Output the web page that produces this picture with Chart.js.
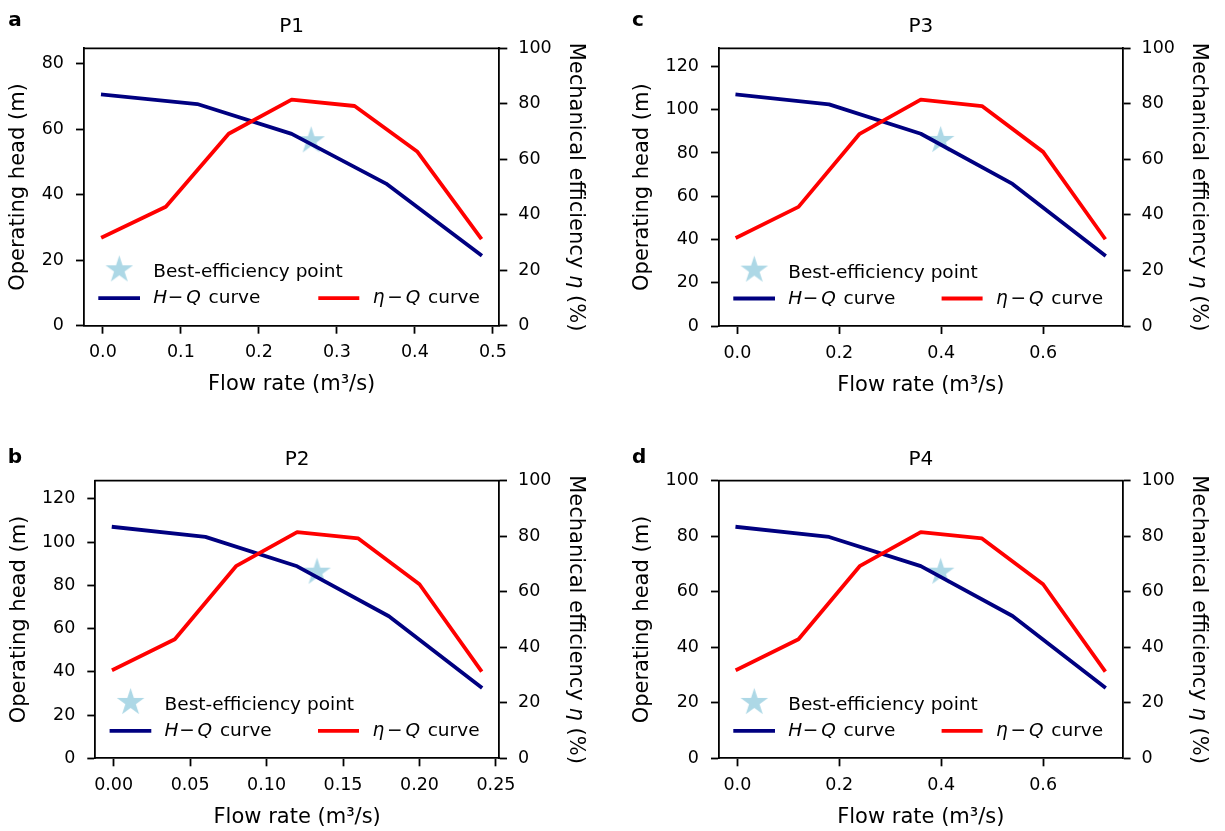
<!DOCTYPE html>
<html>
<head>
<meta charset="utf-8">
<script src="https://cdn.jsdelivr.net/npm/chart.js@4.4.1/dist/chart.umd.min.js"></script>
<style>
  html, body { margin: 0; padding: 0; background: #fff; }
  #fig { position: relative; width: 1225px; height: 831px; }
  #fig canvas { position: absolute; }
</style>
</head>
<body>
<div id="fig">
  <canvas id="pa" width="612" height="415" style="left:0px;top:0px"></canvas>
  <canvas id="pb" width="612" height="416" style="left:0px;top:415px"></canvas>
  <canvas id="pc" width="613" height="415" style="left:612px;top:0px"></canvas>
  <canvas id="pd" width="613" height="416" style="left:612px;top:415px"></canvas>
</div>
<script>
// ---- data ----
const flowHeadP1 = [0, 0.121, 0.242, 0.363, 0.484];
const headP1 = [70.6, 67.7, 58.6, 43.4, 21.7];
const flowEffP1 = [0, 0.0807, 0.1613, 0.242, 0.3227, 0.4033, 0.484];
const effP1 = [32.0, 42.9, 69.2, 81.5, 79.2, 62.7, 31.8];
const bestP1 = [0.267, 56.5];
const xTicksP1 = [0, 0.1, 0.2, 0.3, 0.4, 0.5];
const yTicksP1 = [0, 20, 40, 60, 80];

const flowHeadP2 = [0, 0.06, 0.12, 0.18, 0.24];
const headP2 = [107.0, 102.4, 88.8, 65.7, 33.0];
const flowEffP2 = [0, 0.04, 0.08, 0.12, 0.16, 0.20, 0.24];
const effP2 = [32.0, 42.9, 69.2, 81.5, 79.2, 62.7, 31.8];
const bestP2 = [0.133, 86.1];
const xTicksP2 = [0, 0.05, 0.10, 0.15, 0.20, 0.25];
const yTicksP2 = [0, 20, 40, 60, 80, 100, 120];

const flowHeadP3 = [0, 0.18, 0.36, 0.54, 0.72];
const headP3 = [107.0, 102.5, 88.9, 65.7, 32.9];
const flowEffP3 = [0, 0.12, 0.24, 0.36, 0.48, 0.60, 0.72];
const effP3 = [32.0, 42.9, 69.2, 81.5, 79.2, 62.7, 31.8];
const bestP3 = [0.399, 85.8];
const xTicksP3 = [0, 0.2, 0.4, 0.6];
const yTicksP3 = [0, 20, 40, 60, 80, 100, 120];

const flowHeadP4 = [0, 0.18, 0.36, 0.54, 0.72];
const headP4 = [83.4, 79.8, 69.3, 51.3, 25.8];
const flowEffP4 = [0, 0.12, 0.24, 0.36, 0.48, 0.60, 0.72];
const effP4 = [32.0, 42.9, 69.2, 81.5, 79.2, 62.7, 31.8];
const bestP4 = [0.399, 67.1];
const xTicksP4 = [0, 0.2, 0.4, 0.6];
const yTicksP4 = [0, 20, 40, 60, 80, 100];

const effTicks = [0, 20, 40, 60, 80, 100];

const FONT = "'DejaVu Sans', sans-serif";
const BLUE = '#000080';
const RED = '#ff0000';
const STAR = '#add8e6';

Chart.defaults.font.family = FONT;
Chart.defaults.color = '#000';

function makeStar(R) {
  const s = Math.ceil(2 * R + 4);
  const c = document.createElement('canvas');
  c.width = s; c.height = s;
  const g = c.getContext('2d');
  g.translate(s / 2, s / 2);
  g.beginPath();
  for (let i = 0; i < 10; i++) {
    const r = i % 2 ? R * 0.381966 : R;
    const ang = -Math.PI / 2 + i * Math.PI / 5;
    g.lineTo(r * Math.cos(ang), r * Math.sin(ang));
  }
  g.closePath();
  g.fillStyle = STAR;
  g.fill();
  return c;
}
const starImg = makeStar(14.5);

function pts(xs, ys) {
  return xs.map((x, i) => ({x: x, y: ys[i]}));
}

// "H − Q curve" style label, mathtext-like spacing
function mathLabel(ctx, sym, x, y) {
  const it = "italic 18.5px " + FONT, rm = "18.5px " + FONT;
  ctx.textAlign = 'left';
  ctx.font = it; ctx.fillText(sym, x, y);
  ctx.font = rm; ctx.textAlign = 'center'; ctx.fillText('\u2212', x + 22.3, y);
  ctx.textAlign = 'left';
  ctx.font = it; ctx.fillText('Q', x + 33, y);
  ctx.font = rm; ctx.fillText('curve', x + 55.3, y);
}

function makePanel(p) {
  const xmax = p.flowHead[p.flowHead.length - 1];
  const ymax = 1.2 * Math.max(...p.head);
  const tickGrid = {drawOnChartArea: false, drawTicks: true, tickLength: 8, tickWidth: 1.8, tickColor: '#000'};
  const border = {display: true, color: '#000', width: 1.8};

  const deco = {
    id: 'deco',
    afterDraw(chart) {
      const ctx = chart.ctx, a = chart.chartArea;
      ctx.save();
      // top spine
      ctx.strokeStyle = '#000'; ctx.lineWidth = 1.8;
      ctx.beginPath(); ctx.moveTo(a.left - 0.9, a.top); ctx.lineTo(a.right + 0.9, a.top); ctx.stroke();

      ctx.fillStyle = '#000';
      ctx.textBaseline = 'alphabetic';
      // panel title
      ctx.font = "20px " + FONT; ctx.textAlign = 'center';
      ctx.fillText(p.title, (a.left + a.right) / 2, a.top - 16);
      // panel letter
      ctx.font = "bold 20px " + FONT; ctx.textAlign = 'left';
      ctx.fillText(p.letter, p.letterX, p.letterY);

      // right axis title
      ctx.font = "21px " + FONT;
      const s1 = 'Mechanical efficiency ', s3 = ' (%)';
      const w1 = ctx.measureText(s1).width, w3 = ctx.measureText(s3).width;
      ctx.font = "italic 21px " + FONT;
      const w2 = ctx.measureText('\u03b7').width;
      ctx.translate(a.right + 70.5, (a.top + a.bottom) / 2);
      ctx.rotate(Math.PI / 2);
      let tx = -(w1 + w2 + w3) / 2;
      ctx.font = "21px " + FONT; ctx.fillText(s1, tx, 0); tx += w1;
      ctx.font = "italic 21px " + FONT; ctx.fillText('\u03b7', tx, 0); tx += w2;
      ctx.font = "21px " + FONT; ctx.fillText(s3, tx, 0);
      ctx.setTransform(1, 0, 0, 1, 0, 0);

      // legend
      const y1 = a.bottom - 55.9, y2 = a.bottom - 27.5;
      ctx.drawImage(starImg, a.left + 35.3 - starImg.width / 2, y1 - starImg.height / 2);
      ctx.font = "18.5px " + FONT;
      ctx.fillText('Best-efficiency point', a.left + 69.3, a.bottom - 48.4);
      ctx.lineWidth = 3.8;
      ctx.strokeStyle = BLUE;
      ctx.beginPath(); ctx.moveTo(a.left + 14.3, y2); ctx.lineTo(a.left + 56, y2); ctx.stroke();
      mathLabel(ctx, 'H', a.left + 69.3, a.bottom - 22.4);
      ctx.strokeStyle = RED;
      ctx.beginPath(); ctx.moveTo(a.right - 181, y2); ctx.lineTo(a.right - 140, y2); ctx.stroke();
      mathLabel(ctx, '\u03b7', a.right - 126.6, a.bottom - 22.4);
      ctx.restore();
    }
  };

  return new Chart(document.getElementById(p.id), {
    type: 'line',
    data: {
      datasets: [
        {data: pts(p.flowEff, p.eff), yAxisID: 'y1', borderColor: RED, borderWidth: 3.8,
         pointRadius: 0, tension: 0, borderJoinStyle: 'round', borderCapStyle: 'square'},
        {data: pts(p.flowHead, p.head), yAxisID: 'y', borderColor: BLUE, borderWidth: 3.8,
         pointRadius: 0, tension: 0, borderJoinStyle: 'round', borderCapStyle: 'square'},
        {data: [{x: p.best[0], y: p.best[1]}], yAxisID: 'y', showLine: false,
         pointStyle: starImg, pointRadius: 15, borderWidth: 0}
      ]
    },
    options: {
      responsive: false,
      animation: false,
      events: [],
      layout: {padding: {top: p.T, left: 0, right: 0, bottom: 0}},
      plugins: {legend: {display: false}, tooltip: {enabled: false}, title: {display: false}},
      scales: {
        x: {
          type: 'linear', min: -0.05 * xmax, max: 1.05 * xmax,
          afterBuildTicks: s => { s.ticks = p.xTicks.map(v => ({value: v})); },
          afterFit: s => { s.height = p.H - p.B; },
          ticks: {callback: v => v.toFixed(p.dec), font: {size: 17.5}, color: '#000', padding: 8.5,
                  maxRotation: 0, autoSkip: false},
          grid: tickGrid, border: border,
          title: {display: true, text: 'Flow rate (m\u00b3/s)', color: '#000',
                  font: {size: 21, lineHeight: 1},
                  padding: {top: 0, bottom: p.H - (p.B + 59.2) - 10.5}}
        },
        y: {
          type: 'linear', position: 'left', min: 0, max: ymax,
          afterBuildTicks: s => { s.ticks = p.yTicks.map(v => ({value: v})); },
          afterFit: s => { s.width = p.L; },
          ticks: {font: {size: 17.5}, color: '#000', padding: 12},
          grid: tickGrid, border: border,
          title: {display: true, text: 'Operating head (m)', color: '#000',
                  font: {size: 21, lineHeight: 1},
                  padding: {top: p.L - p.leftTitleOff - 10.5, bottom: 0}}
        },
        y1: {
          type: 'linear', position: 'right', min: 0, max: 100,
          afterBuildTicks: s => { s.ticks = effTicks.map(v => ({value: v})); },
          afterFit: s => { s.width = p.W - p.R; },
          ticks: {font: {size: 17.5}, color: '#000', padding: 11},
          grid: tickGrid, border: border
        }
      }
    },
    plugins: [deco]
  });
}

makePanel({id: 'pa', letter: 'a', title: 'P1', flowHead: flowHeadP1, head: headP1, flowEff: flowEffP1, eff: effP1,
  best: bestP1, xTicks: xTicksP1, yTicks: yTicksP1, dec: 1,
  W: 612, H: 415, L: 84, R: 499.3, T: 48.3, B: 325.7, letterX: 8.3, letterY: 26, leftTitleOff: 65.5});
makePanel({id: 'pb', letter: 'b', title: 'P2', flowHead: flowHeadP2, head: headP2, flowEff: flowEffP2, eff: effP2,
  best: bestP2, xTicks: xTicksP2, yTicks: yTicksP2, dec: 2,
  W: 612, H: 416, L: 95.3, R: 499, T: 65.7, B: 343.3, letterX: 7.8, letterY: 48, leftTitleOff: 76});
makePanel({id: 'pc', letter: 'c', title: 'P3', flowHead: flowHeadP3, head: headP3, flowEff: flowEffP3, eff: effP3,
  best: bestP3, xTicks: xTicksP3, yTicks: yTicksP3, dec: 1,
  W: 613, H: 415, L: 107, R: 510.6, T: 48.3, B: 326, letterX: 20, letterY: 26, leftTitleOff: 76});
makePanel({id: 'pd', letter: 'd', title: 'P4', flowHead: flowHeadP4, head: headP4, flowEff: flowEffP4, eff: effP4,
  best: bestP4, xTicks: xTicksP4, yTicks: yTicksP4, dec: 1,
  W: 613, H: 416, L: 107, R: 510.6, T: 65.7, B: 343.3, letterX: 20, letterY: 47.7, leftTitleOff: 76});
</script>
</body>
</html>
